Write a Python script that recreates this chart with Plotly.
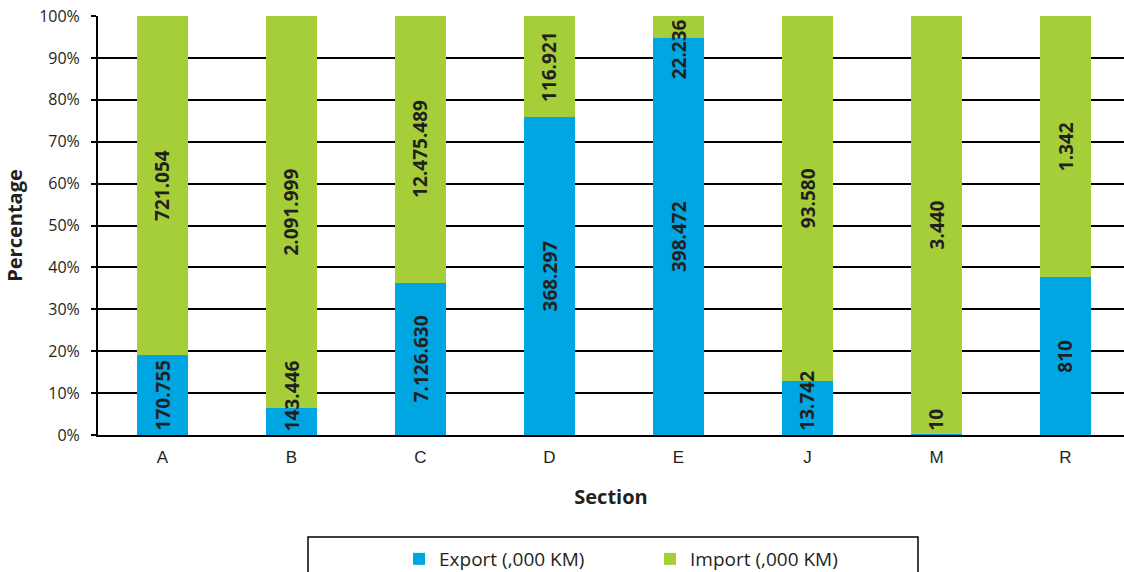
import plotly.graph_objects as go

sections = ["A", "B", "C", "D", "E", "J", "M", "R"]
export_vals = [170755, 143446, 7126630, 368297, 398472, 13742, 10, 810]
import_vals = [721054, 2091999, 12475489, 116921, 22236, 93580, 3440, 1342]
y_ticks = [0, 10, 20, 30, 40, 50, 60, 70, 80, 90, 100]

BLUE = "#00A6E2"
GREEN = "#A6CE39"
TXT = "#231F20"

W, H = 1124, 572
ML, MR, MT, MB = 98, 0, 16, 137
plot_h = H - MT - MB
px_per_pct = plot_h / 100.0
LABEL_SIZE = 19

fig = go.Figure()
fig.add_trace(go.Bar(x=sections, y=export_vals, name="Export (,000 KM)",
                     marker=dict(color=BLUE, line=dict(width=0)), hoverinfo="skip"))
fig.add_trace(go.Bar(x=sections, y=import_vals, name="Import (,000 KM)",
                     marker=dict(color=GREEN, line=dict(width=0)), hoverinfo="skip"))


def fmt(v):
    return f"{v:,}".replace(",", ".")


def text_len(s, size=LABEL_SIZE):
    return sum(0.28 * size if c == "." else 0.572 * size for c in s)


annotations = []
for i, (e, m) in enumerate(zip(export_vals, import_vals)):
    tot = e + m
    pe = e / tot * 100
    segs = [(0, pe, e), (pe, 100, m)]
    for lo, hi, v in segs:
        s = fmt(v)
        half = (text_len(s) / 2 + 4) / px_per_pct
        c = (lo + hi) / 2
        c = min(max(c, half), 100 - half)
        annotations.append(dict(x=sections[i], y=c, xref="x", yref="y", text=s,
                                showarrow=False, textangle=-90,
                                font=dict(family="Open Sans", size=LABEL_SIZE, color=TXT,
                                          weight="bold")))

fig.update_layout(
    barmode="stack", barnorm="percent", bargap=0.6,
    width=W, height=H,
    margin=dict(l=ML, r=MR, t=MT, b=MB, autoexpand=False),
    plot_bgcolor="white", paper_bgcolor="white",
    font=dict(family="Open Sans", color=TXT),
    showlegend=True,
    legend=dict(orientation="h", x=(399 - ML) / (W - ML), xanchor="left",
                y=(MT + plot_h - 540) / plot_h, yanchor="top",
                font=dict(family="Open Sans", size=19, color=TXT),
                entrywidth=206, entrywidthmode="pixels", traceorder="normal",
                bgcolor="rgba(0,0,0,0)"),
    annotations=annotations,
    shapes=[dict(type="rect", xref="paper", yref="paper",
                 x0=(308 - ML) / (W - ML), x1=(918 - ML) / (W - ML),
                 y0=(MT + plot_h - 537) / plot_h, y1=(MT + plot_h - 600) / plot_h,
                 line=dict(color="#000000", width=1.5), fillcolor="rgba(0,0,0,0)")],
)

fig.update_xaxes(
    type="category", range=[-0.5, -0.5 + (W - ML - MR) / 129.0],
    showline=True, linecolor="#000000", linewidth=2,
    ticks="", showgrid=False, ticklabelstandoff=6,
    tickfont=dict(family="Liberation Sans", size=17, color=TXT),
    title=dict(text="Section", standoff=24,
               font=dict(family="Open Sans", size=20, color=TXT, weight="bold")),
)
fig.update_yaxes(
    range=[0, 100], tickvals=y_ticks, ticktext=[f"{t}%" for t in y_ticks],
    showline=True, linecolor="#000000", linewidth=2,
    ticks="outside", ticklen=5, tickcolor="#000000", tickwidth=1.5,
    showgrid=True, gridcolor="#000000", gridwidth=1.5,
    ticklabelstandoff=8,
    tickfont=dict(family="Open Sans", size=16, color=TXT),
    title=dict(text="Percentage", standoff=11,
               font=dict(family="Open Sans", size=20, color=TXT, weight="bold")),
    zeroline=False,
)

fig.write_html("out.html", config={"displayModeBar": False},
               post_script="document.body.style.margin='0';document.body.style.overflow='hidden';")
